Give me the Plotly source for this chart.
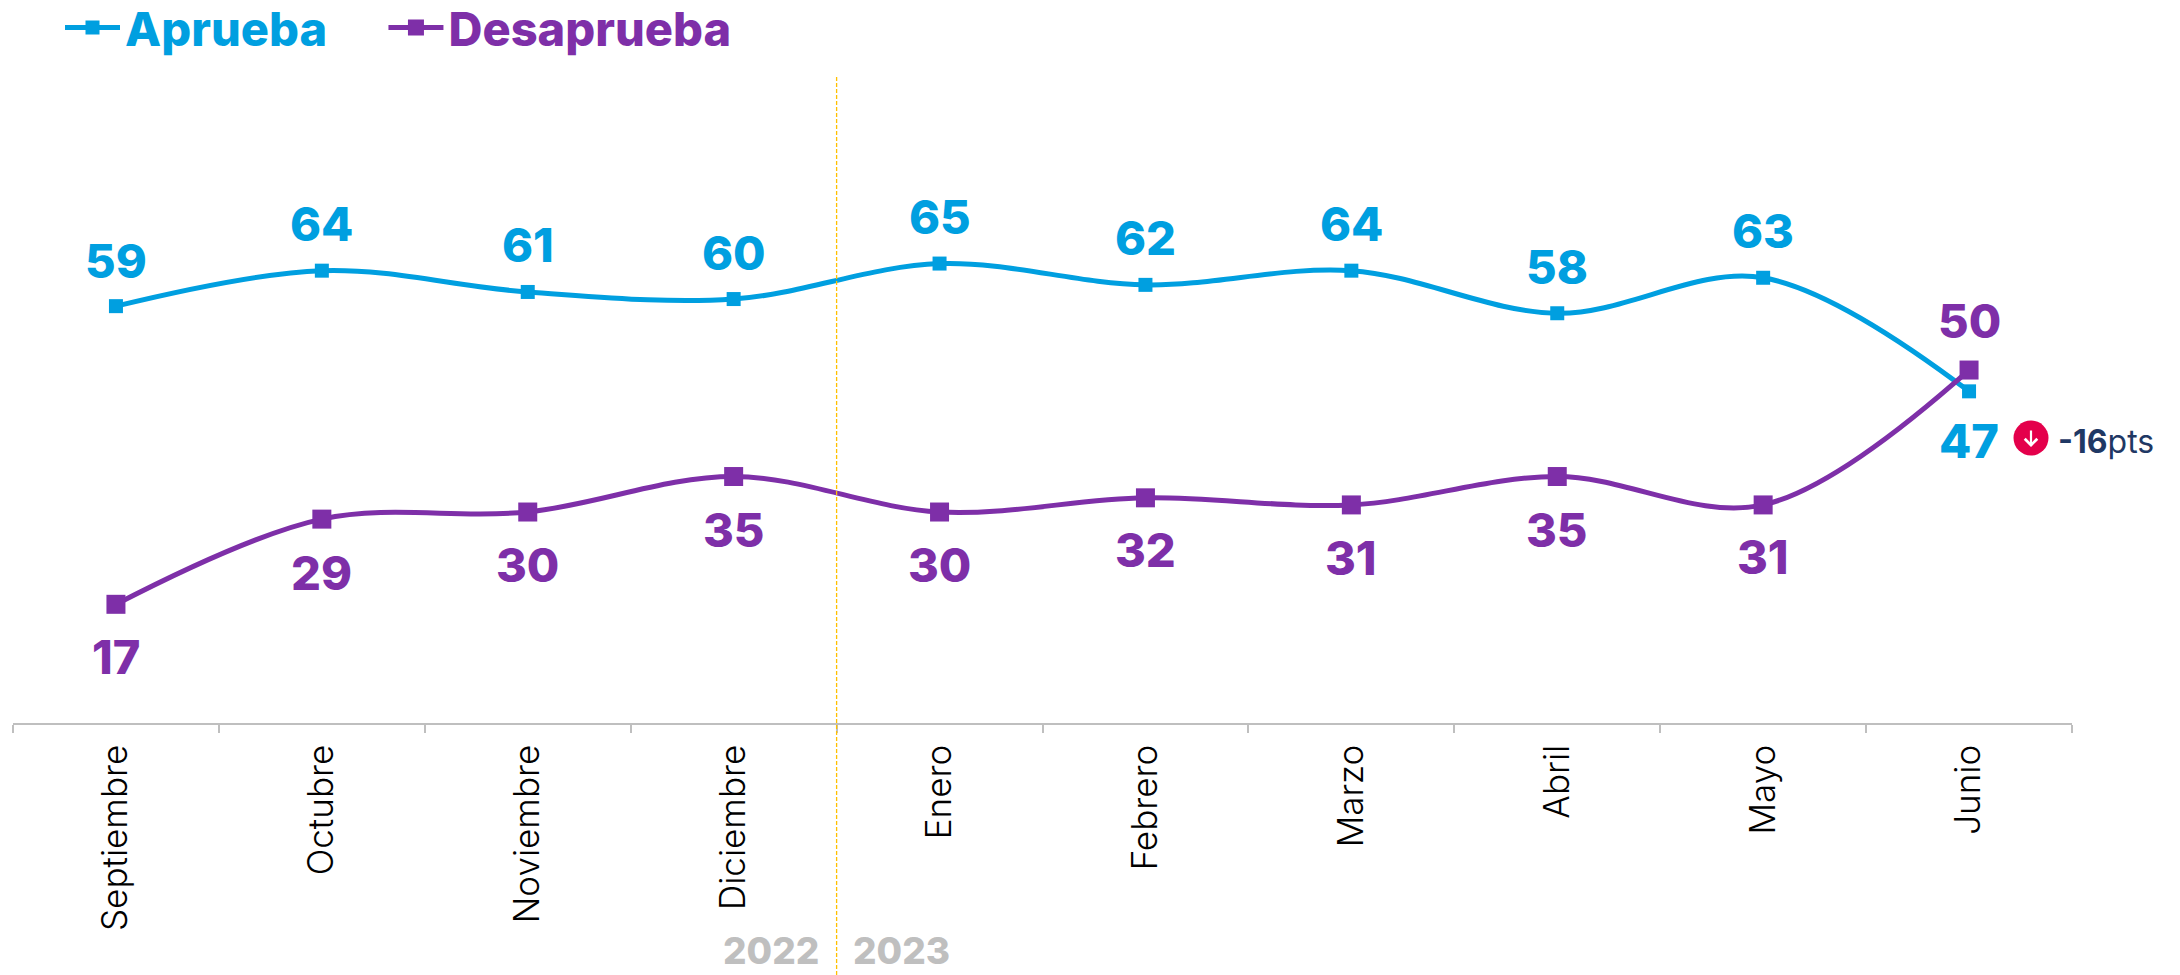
import plotly.graph_objects as go

months = ["Septiembre", "Octubre", "Noviembre", "Diciembre", "Enero", "Febrero", "Marzo", "Abril", "Mayo", "Junio"]
aprueba = [59, 64, 61, 60, 65, 62, 64, 58, 63, 47]
desaprueba = [17, 29, 30, 35, 30, 32, 31, 35, 31, 50]
aprueba_shift = [46, 47, 47, 47, 47, 47, 47, 47, 47, -49]
desaprueba_shift = [-52, -53, -52, -53, -52, -52, -53, -53, -52, 50]

BLUE = "#009fe0"
PURPLE = "#7e2fa8"
FONT = "Inter"
W, H = 2180, 975
L, R, T, B = 13, 108, 8, 252

fig = go.Figure()
fig.add_trace(go.Scatter(
    x=months, y=aprueba, mode="lines+markers",
    name=f'<span style="color:{BLUE}">Aprueba' + "\u00a0" * 5 + "</span>",
    line=dict(color=BLUE, width=5, shape="spline", smoothing=1),
    marker=dict(symbol="square", size=14, color=BLUE),
))
fig.add_trace(go.Scatter(
    x=months, y=desaprueba, mode="lines+markers",
    name=f'<span style="color:{PURPLE}">Desaprueba</span>',
    line=dict(color=PURPLE, width=5, shape="spline", smoothing=1),
    marker=dict(symbol="square", size=19, color=PURPLE),
))

ann = []
for m, v, s in zip(months, aprueba, aprueba_shift):
    ann.append(dict(x=m, y=v, yshift=s, text=str(v), showarrow=False,
                    font=dict(family=FONT, size=47, color=BLUE, weight=800)))
for m, v, s in zip(months, desaprueba, desaprueba_shift):
    ann.append(dict(x=m, y=v, yshift=s, text=str(v), showarrow=False,
                    font=dict(family=FONT, size=47, color=PURPLE, weight=800)))

px = lambda x: (x - L) / (W - L - R)
py = lambda y: 1 - (y - T) / (H - T - B)

ann += [
    dict(x=3.5, xshift=-66, y=py(950), yref="paper", yanchor="middle", text="2022", showarrow=False,
         font=dict(family=FONT, size=37, color="#bfbfbf", weight=800)),
    dict(x=3.5, xshift=65, y=py(950), yref="paper", yanchor="middle", text="2023", showarrow=False,
         font=dict(family=FONT, size=37, color="#bfbfbf", weight=800)),
    dict(x=px(2031), y=py(447), xref="paper", yref="paper", text="", showarrow=True,
         ax=0, ay=-18, arrowhead=4, arrowsize=1.1, arrowwidth=2.2, arrowcolor="white"),
    dict(x=px(2056), y=py(441), xref="paper", yref="paper", xanchor="left", yanchor="middle",
         text="<b>-16</b>pts", showarrow=False,
         font=dict(family=FONT, size=32, color="#1f3864")),
]

shapes = [
    dict(type="line", xref="x", yref="paper", x0=3.5, x1=3.5, y0=py(975), y1=py(75),
         line=dict(color="#ffc000", width=1.3, dash="4px,2px")),
    dict(type="circle", xref="paper", yref="paper", x0=px(2013.5), x1=px(2048.5), y0=py(455.5), y1=py(420.5),
         fillcolor="#e4004b", line=dict(width=0)),
]

fig.update_layout(
    width=W, height=H, autosize=False,
    paper_bgcolor="white", plot_bgcolor="white",
    margin=dict(l=L, r=R, t=T, b=B, autoexpand=False),
    font=dict(family=FONT),
    showlegend=True,
    legend=dict(orientation="h", x=px(60), y=py(28), yanchor="middle", xanchor="left",
                font=dict(family=FONT, size=47, weight=800), itemwidth=55,
                bgcolor="rgba(0,0,0,0)"),
    annotations=ann, shapes=shapes,
    xaxis=dict(type="category", tickson="boundaries", ticks="outside", ticklen=8, tickwidth=1.5,
               tickcolor="#bfbfbf", showline=True, linecolor="#bfbfbf", linewidth=1.5,
               tickangle=-90, showgrid=False, zeroline=False, range=[-0.5, 9.5],
               ticklabelstandoff=6,
               tickfont=dict(family=FONT, size=35, color="black", weight=300)),
    yaxis=dict(range=[0.28, 101], visible=False, showgrid=False, zeroline=False),
)

fig.write_html("out.html", post_script="document.body.style.margin='0';",
               config=dict(displayModeBar=False))
